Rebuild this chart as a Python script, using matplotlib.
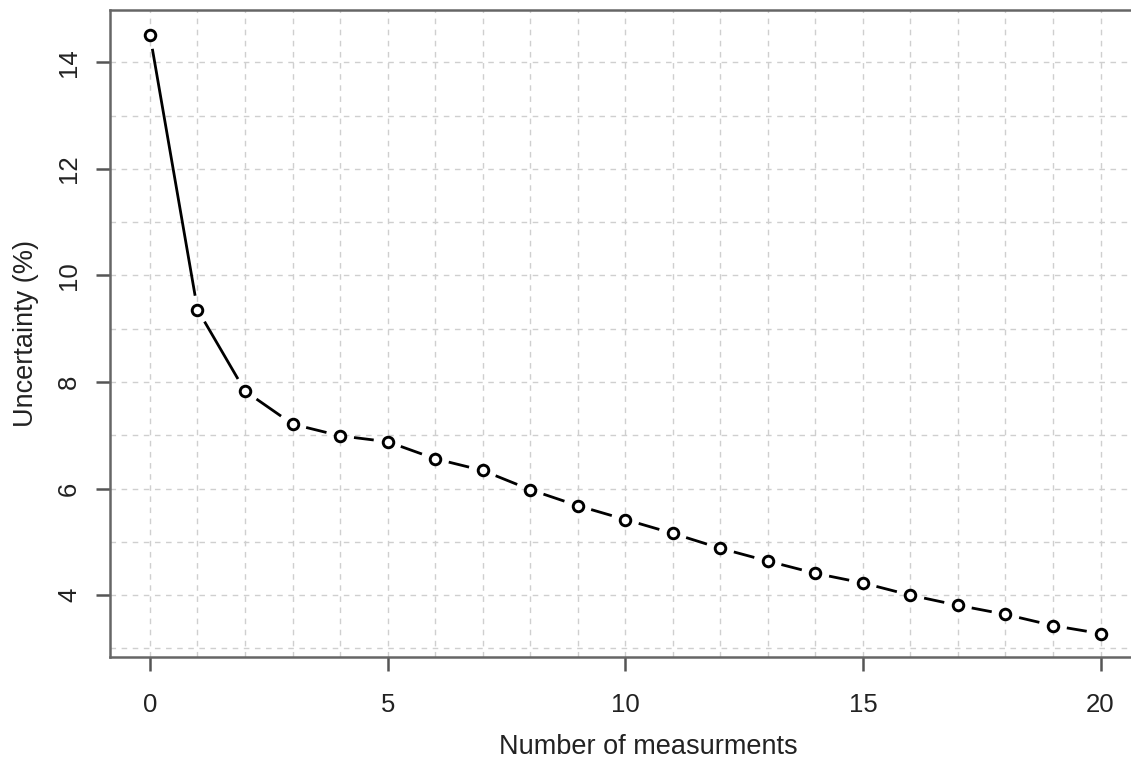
import matplotlib
matplotlib.use("Agg")
import matplotlib.pyplot as plt
import numpy as np

n_meas = list(range(0, 21))
uncert = [14.51, 9.36, 7.83, 7.21, 6.99, 6.88, 6.56, 6.34, 5.98, 5.68, 5.42,
          5.16, 4.88, 4.64, 4.41, 4.23, 4.00, 3.81, 3.64, 3.43, 3.28]
x_ticks = [0, 5, 10, 15, 20]
y_ticks = [4, 6, 8, 10, 12, 14]

plt.rcParams["font.family"] = ["Liberation Sans", "DejaVu Sans"]

fig = plt.figure(figsize=(11.31, 7.63), dpi=100)
# the original screenshot cuts the plot box off on the right
ax = fig.add_axes([0.0973, 0.1389, 0.9514, 0.848])
ax.set_xlim(-0.84, 21.8)
ax.set_ylim(2.84, 14.98)

# dashed grid on every unit
for gx in range(0, 22):
    ax.axvline(gx, color="#cfcfcf", lw=1, ls=(0, (4, 4)), zorder=0)
for gy in range(3, 15):
    ax.axhline(gy, color="#cfcfcf", lw=1, ls=(0, (4, 4)), zorder=0)

# R type="b": segments stop short of the points
fig.canvas.draw()
pts = ax.transData.transform(np.column_stack([n_meas, uncert]))
gap = 14.0
inv = ax.transData.inverted()
for p0, p1 in zip(pts[:-1], pts[1:]):
    d = p1 - p0
    L = np.hypot(*d)
    if L <= 2 * gap:
        continue
    u = d / L
    a = inv.transform(p0 + u * gap)
    b = inv.transform(p1 - u * gap)
    ax.plot([a[0], b[0]], [a[1], b[1]], color="black", lw=2, solid_capstyle="butt", zorder=2)

ax.plot(n_meas, uncert, ls="none", marker="o", ms=7.6, mfc="white", mec="black",
        mew=2.1, zorder=3)

for s in ("left", "bottom", "top"):
    ax.spines[s].set_color("#666666")
    ax.spines[s].set_linewidth(1.8)
ax.spines["right"].set_visible(False)

ax.set_xticks(x_ticks)
ax.set_yticks(y_ticks)
ax.set_yticklabels([str(v) for v in y_ticks], rotation=90, va="center")
ax.tick_params(axis="both", direction="out", length=10, width=1.8, color="#555555",
               labelsize=18.5, labelcolor="#222222")
ax.tick_params(axis="x", pad=16)
ax.tick_params(axis="y", pad=11)

ax.set_xlabel("Number of measurments", fontsize=19.5, color="#222222", labelpad=12)
ax.set_ylabel("Uncertainty (%)", fontsize=19.5, color="#222222", labelpad=13)

fig.savefig("out.png", dpi=100)
